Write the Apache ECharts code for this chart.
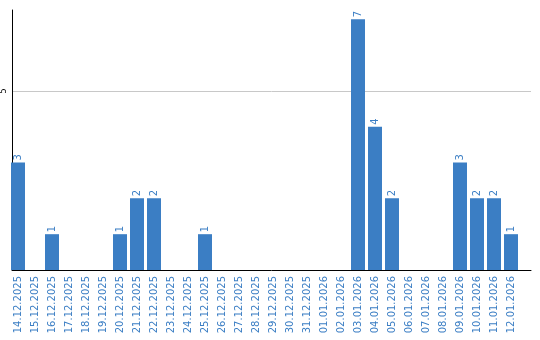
<!DOCTYPE html>
<html>
<head>
<meta charset="utf-8">
<script src="https://cdn.jsdelivr.net/npm/echarts@6/dist/echarts.min.js"></script>
<style>html,body{margin:0;padding:0;background:#fff}#c{width:540px;height:340px}</style>
</head>
<body>
<div id="c"></div>
<script>
const categories = ["14.12.2025","15.12.2025","16.12.2025","17.12.2025","18.12.2025","19.12.2025","20.12.2025","21.12.2025","22.12.2025","23.12.2025","24.12.2025","25.12.2025","26.12.2025","27.12.2025","28.12.2025","29.12.2025","30.12.2025","31.12.2025","01.01.2026","02.01.2026","03.01.2026","04.01.2026","05.01.2026","06.01.2026","07.01.2026","08.01.2026","09.01.2026","10.01.2026","11.01.2026","12.01.2026"];
const counts = [3,0,1,0,0,0,1,2,2,0,0,1,0,0,0,0,0,0,0,0,7,4,2,0,0,0,3,2,2,1];
const yTicks = [5];

const blue = '#3b7ec4';
const chart = echarts.init(document.getElementById('c'));
chart.setOption({
  animation: false,
  grid: [
    {left: 10, top: 10, width: 521, bottom: 70},
    {left: 9.5, top: 10, width: 510, bottom: 70}
  ],
  xAxis: [
    {gridIndex: 0, type: 'value', min: 0, max: 1, axisLine: {show: true, lineStyle: {color: '#000', width: 1}}, axisTick: {show: false}, axisLabel: {show: false}, splitLine: {show: false}},
    {gridIndex: 1, type: 'category', data: categories, axisLine: {show: false}, axisTick: {show: false},
     axisLabel: {interval: 0, rotate: 90, color: blue, fontSize: 10, fontFamily: 'DejaVu Sans', margin: 6}}
  ],
  yAxis: [
    {gridIndex: 0, type: 'value', min: 0, max: 7.26, interval: 5,
     axisLine: {show: true, lineStyle: {color: '#000', width: 1}}, axisTick: {show: false},
     axisLabel: {rotate: 90, fontSize: 8, color: '#000', fontFamily: 'DejaVu Sans', margin: 4,
       formatter: v => yTicks.indexOf(v) >= 0 ? String(v) : ''},
     splitLine: {show: true, showMinLine: false, showMaxLine: false, lineStyle: {color: '#c8c8c8', width: 1}}},
    {gridIndex: 1, type: 'value', min: 0, max: 7.26, show: false}
  ],
  series: [{
    type: 'bar', xAxisIndex: 1, yAxisIndex: 1, data: counts, barWidth: 14,
    itemStyle: {color: blue},
    label: {show: true, position: 'top', rotate: 90, align: 'left', verticalAlign: 'middle', distance: 2,
      color: blue, fontSize: 10, fontFamily: 'DejaVu Sans',
      formatter: p => p.value > 0 ? String(p.value) : ''}
  }]
});
</script>
</body>
</html>
